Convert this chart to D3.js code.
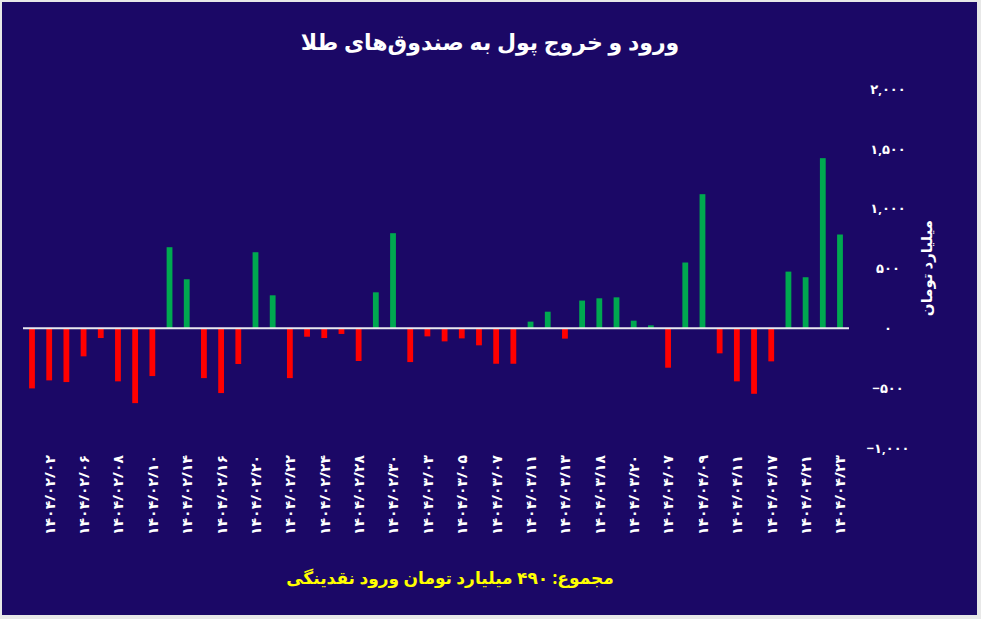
<!DOCTYPE html>
<html><head><meta charset="utf-8">
<script src="https://cdn.jsdelivr.net/npm/d3@7"></script>
<style>body{margin:0;background:#e8e8e8}svg{display:block}</style>
</head><body><svg id="c" width="981" height="619"></svg>
<script>
const dates = ["1404/02/01","1404/02/02","1404/02/03","1404/02/06","1404/02/07","1404/02/08","1404/02/09","1404/02/10","1404/02/13","1404/02/14","1404/02/15","1404/02/16","1404/02/17","1404/02/20","1404/02/21","1404/02/22","1404/02/23","1404/02/24","1404/02/27","1404/02/28","1404/02/29","1404/02/30","1404/03/01","1404/03/03","1404/03/04","1404/03/05","1404/03/06","1404/03/07","1404/03/10","1404/03/11","1404/03/12","1404/03/13","1404/03/17","1404/03/18","1404/03/19","1404/03/20","1404/04/06","1404/04/07","1404/04/08","1404/04/09","1404/04/10","1404/04/11","1404/04/16","1404/04/17","1404/04/18","1404/04/21","1404/04/22","1404/04/23"];
const values = [-502,-435,-449,-234,-81,-443,-625,-399,678,410,-416,-541,-298,636,276,-416,-70,-81,-47,-273,301,795,-282,-67,-109,-84,-142,-296,-296,56,139,-86,232,251,259,64,25,-329,550,1121,-209,-443,-547,-276,474,427,1422,784];
const yTicks = [-1000,-500,0,500,1000,1500,2000];
const title = "ورود و خروج پول به صندوق‌های طلا";
const yTitle = "میلیارد تومان";
const footer = "مجموع: ۴۹۰ میلیارد تومان ورود نقدینگی";

const fa = s => String(s).replace(/\d/g, d => "۰۱۲۳۴۵۶۷۸۹"[d]);
const svg = d3.select("#c");
const font = "'Noto Sans', 'DejaVu Sans', sans-serif";
svg.append("rect").attr("x",2).attr("y",2).attr("width",975).attr("height",613).attr("fill","#1b0866");

const x = d3.scalePoint().domain(dates).range([32, 840]);
const bw = 5.8;
const y = d3.scaleLinear().domain([-1000,2000]).range([448, 89]);

svg.append("g").selectAll("rect").data(values).join("rect")
  .attr("x",(d,i)=>x(dates[i])-bw/2).attr("width",bw)
  .attr("y",d=>y(Math.max(0,d))).attr("height",d=>Math.abs(y(d)-y(0)))
  .attr("fill",d=>d>=0?"#00a850":"#ff0000");
svg.append("line").attr("x1",23).attr("x2",849).attr("y1",y(0)).attr("y2",y(0)).attr("stroke","#e8e8f0").attr("stroke-width",2);

const ya = d3.axisRight(y).tickValues(yTicks).tickSize(0).tickFormat(d=>fa(d3.format(",")(d)));
const yg = svg.append("g").attr("transform","translate(888,0)").call(ya);
yg.select(".domain").remove();
yg.selectAll("text").attr("x",0).attr("text-anchor","middle").attr("fill","#fff")
  .attr("font-family",font).attr("font-weight","bold").attr("font-size",13)
  .attr("direction","ltr").style("unicode-bidi","bidi-override");

const xa = d3.axisBottom(x).tickValues(dates.filter((d,i)=>i%2===1)).tickSize(0).tickFormat(fa);
const xg = svg.append("g").attr("transform","translate(0,450)").call(xa);
xg.select(".domain").remove();
xg.selectAll("text").attr("transform","rotate(-90)").attr("x",-5).attr("y",0).attr("dy","0.35em")
  .attr("text-anchor","end").attr("fill","#fff").attr("font-family",font).attr("font-weight","bold").attr("font-size",14)
  .attr("direction","ltr").style("unicode-bidi","bidi-override");

svg.append("text").attr("x",490).attr("y",50).attr("text-anchor","middle").attr("fill","#fff")
  .attr("font-family",font).attr("font-weight","bold").attr("font-size",22).attr("direction","rtl").text(title);
svg.append("text").attr("transform","translate(932,268) rotate(-90)").attr("text-anchor","middle").attr("fill","#fff")
  .attr("font-family",font).attr("font-weight","bold").attr("font-size",15).attr("direction","rtl").text(yTitle);
svg.append("text").attr("x",450).attr("y",584).attr("text-anchor","middle").attr("fill","#ffff00")
  .attr("font-family",font).attr("font-weight","bold").attr("font-size",17).attr("direction","rtl").text(footer);
</script></body></html>
